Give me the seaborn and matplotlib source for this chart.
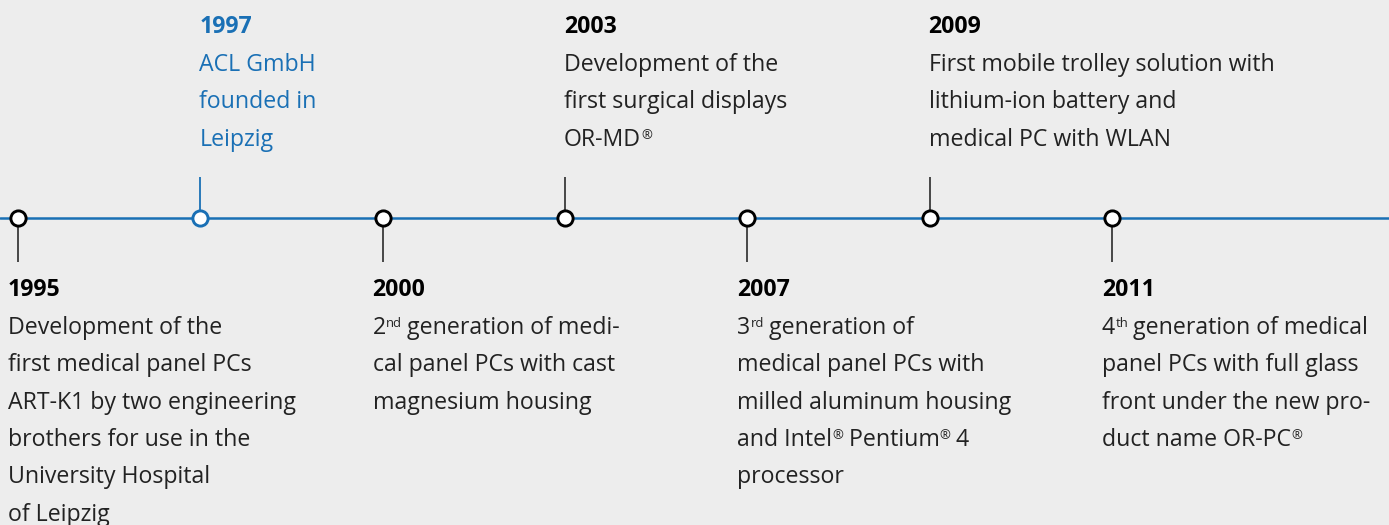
import re
import matplotlib
matplotlib.use("Agg")
import matplotlib.pyplot as plt
import seaborn as sns
import pandas as pd

# ---------------- data ----------------
years = ["1995", "1997", "2000", "2003", "2007", "2009", "2011"]
sides = ["below", "above", "below", "above", "below", "above", "below"]
highlight = ["1997"]
descriptions = [
    ["Development of the", "first medical panel PCs", "ART-K1 by two engineering",
     "brothers for use in the", "University Hospital", "of Leipzig"],
    ["ACL GmbH", "founded in", "Leipzig"],
    ["2^{nd} generation of medi-", "cal panel PCs with cast", "magnesium housing"],
    ["Development of the", "first surgical displays", "OR-MD^{®}"],
    ["3^{rd} generation of", "medical panel PCs with", "milled aluminum housing",
     "and Intel^{®} Pentium^{®} 4", "processor"],
    ["First mobile trolley solution with", "lithium-ion battery and",
     "medical PC with WLAN"],
    ["4^{th} generation of medical", "panel PCs with full glass",
     "front under the new pro-", "duct name OR-PC^{®}"],
]

# ---------------- style ----------------
BG = "#ededed"
BLUE = "#1a70b5"
TEXT = "#222222"
STEM = "#3a3a3a"
W, H = 1389, 525
SPACING = 182.3          # px between events
X0 = 18                  # px of first event
LINE_Y = 218             # px of the timeline
FS = 16.7
LH = 37.4                # line height in px

sns.set_theme(style="white")
plt.rcParams["font.family"] = ["Open Sans", "DejaVu Sans"]

fig = plt.figure(figsize=(W / 100, H / 100), dpi=100)
fig.patch.set_facecolor(BG)
ax = fig.add_axes([0, 0, 1, 1])
ax.set_facecolor(BG)
ax.set_xlim(-X0 / SPACING, (W - X0) / SPACING)
ax.set_ylim(H - LINE_Y, -LINE_Y)   # y in px, downward, 0 = timeline
ax.axis("off")

df = pd.DataFrame({
    "pos": range(len(years)),
    "y": [0] * len(years),
    "year": years,
    "side": sides,
})
df["kind"] = ["hl" if y in highlight else "normal" for y in years]

px = 1 / SPACING  # px -> x data units

# timeline
ax.axhline(0, color=BLUE, lw=1.8, zorder=1)

# stems
for _, r in df.iterrows():
    c = BLUE if r["kind"] == "hl" else STEM
    if r["side"] == "above":
        ax.vlines(r["pos"], -41, -8, color=c, lw=1.3, zorder=1)
    else:
        ax.vlines(r["pos"], 8, 44, color=c, lw=1.3, zorder=1)

# markers
for kind, ec in [("normal", "black"), ("hl", BLUE)]:
    sub = df[df["kind"] == kind]
    sns.scatterplot(data=sub, x="pos", y="y", ax=ax, s=120, color="white",
                    edgecolor=ec, linewidth=2.1, zorder=3, legend=False)


def draw_line(x, y, line, color):
    # main segments share a baseline; superscripts sit raised
    parts = re.split(r"\^\{(.*?)\}", line)
    prev = None
    for i, seg in enumerate(parts):
        if seg == "":
            continue
        sup = (i % 2 == 1)
        if prev is None:
            prev = ax.text(x, y, seg, fontsize=FS, color=color, va="baseline",
                           ha="left", zorder=4)
        elif sup:
            prev = ax.annotate(seg, xy=(1, 0), xycoords=prev, xytext=(0.2, FS * 0.42),
                               textcoords="offset points", fontsize=FS * 0.56,
                               color=color, va="bottom", ha="left", zorder=4)
        else:
            prev = ax.annotate(seg, xy=(1, 0), xycoords=prev, xytext=(-0.5, -FS * 0.42),
                               textcoords="offset points", fontsize=FS,
                               color=color, va="bottom", ha="left", zorder=4)
    return prev


for idx, r in df.iterrows():
    color = BLUE if r["kind"] == "hl" else TEXT
    lines = descriptions[idx]
    if r["side"] == "below":
        x = r["pos"] - 10 * px
        ytop = 288 - LINE_Y
    else:
        x = r["pos"] - 1 * px
        ytop = 25 - LINE_Y
    ax.text(x, ytop + 2, r["year"], fontsize=FS, fontweight="bold",
            color=BLUE if r["kind"] == "hl" else "black",
            va="center", ha="left", zorder=4)
    for k, ln in enumerate(lines):
        yc = ytop + LH * (k + 1)
        draw_line(x, yc + 0.36 * FS * 100 / 72, ln, color)

fig.savefig("out.png", dpi=100, facecolor=BG)
